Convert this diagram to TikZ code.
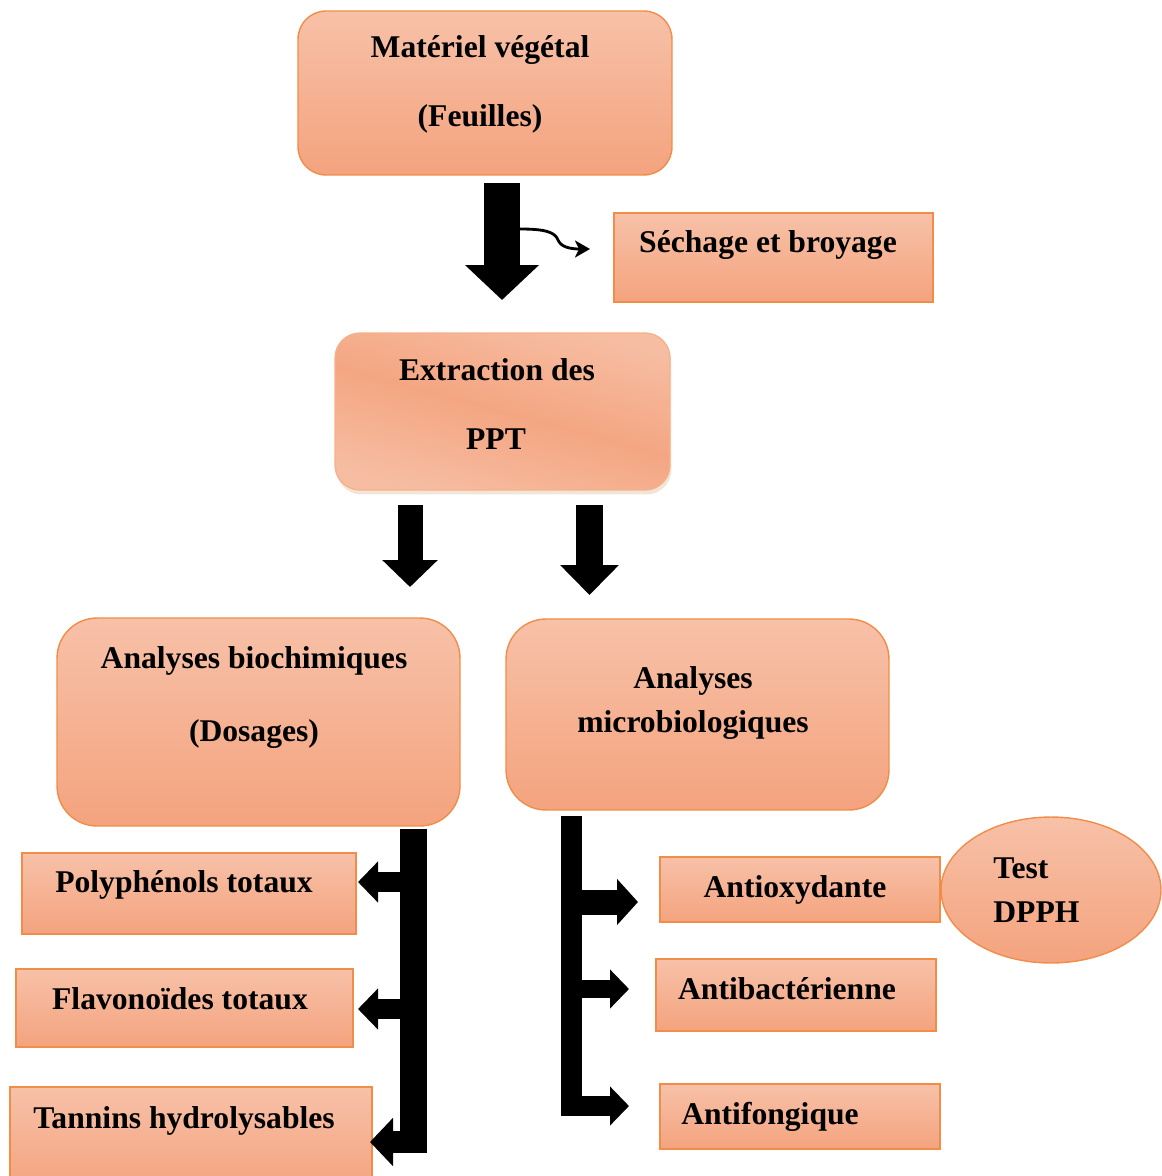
\documentclass[tikz,border=0pt]{standalone}
\usepackage{fontspec}
\setmainfont{Liberation Serif}
\usetikzlibrary{arrows.meta,shapes.geometric,shadows}

\definecolor{peachA}{RGB}{247,193,168}
\definecolor{peachB}{RGB}{244,163,126}
\definecolor{peachC}{RGB}{244,166,130}
\definecolor{edgeOr}{RGB}{241,141,72}

\tikzset{
  lbl/.style={font=\bfseries\fontsize{18}{22}\selectfont, inner sep=0pt, anchor=base},
  box/.style={draw=edgeOr, line width=0.8pt, top color=peachA, bottom color=peachB, inner sep=0pt},
  rbox/.style={box, rounded corners=#1},
  blk/.style={line width=#1, black},
}

\begin{document}
\begin{tikzpicture}[x=0.02cm, y=-0.02cm]
\useasboundingbox (0,0) rectangle (1162,1176);

% --------- Boxes ----------
\node[rbox=0.56cm, minimum width=7.48cm, minimum height=3.28cm] (mat) at (485,93) {};
\node[box, minimum width=6.38cm, minimum height=1.78cm] (sech) at (773.5,257.5) {};
\node[draw=peachA!70!edgeOr, line width=0.8pt, rounded corners=0.5cm, inner sep=0pt,
      top color=peachA!85!peachC, bottom color=peachA!85!peachC, middle color=peachC, shading angle=-15,
      drop shadow={opacity=0.35, fill=brown!60, shadow xshift=0.03cm, shadow yshift=-0.09cm},
      minimum width=6.7cm, minimum height=3.14cm] (ext) at (502.5,411.5) {};
\node[rbox=0.8cm, minimum width=8.06cm, minimum height=4.16cm] (bio) at (258.5,722) {};
\node[rbox=0.8cm, minimum width=7.66cm, minimum height=3.82cm] (micro) at (697.5,714.5) {};

% left column
\node[box, minimum width=6.68cm, minimum height=1.62cm] (poly)  at (189,893.5) {};
\node[box, minimum width=6.74cm, minimum height=1.56cm] (flavo) at (184.5,1008) {};
\node[box, minimum width=7.24cm, minimum height=2.06cm] (tann)  at (191,1138.5) {};

% right column
\node[box, minimum width=5.6cm, minimum height=1.3cm]  (antiox)  at (800,889.5) {};
\node[box, minimum width=5.6cm, minimum height=1.44cm] (antibac) at (796,995) {};
\node[box, minimum width=5.6cm, minimum height=1.3cm]  (antif)   at (800,1116.5) {};
\node[box, ellipse, minimum width=4.4cm, minimum height=2.92cm] (dpph) at (1051,890) {};

% --------- Texts ----------
\node[lbl] (matA) at (480,58)  {Matériel végétal};
\node[lbl] (matB) at (480,127) {(Feuilles)};
\node[lbl] (sechA) at (768,252) {Séchage et broyage};
\node[lbl] (extA) at (497,380) {Extraction des};
\node[lbl] (extB) at (496,449) {PPT};
\node[lbl] (bioA) at (254,668) {Analyses biochimiques};
\node[lbl] (bioB) at (254,741) {(Dosages)};
\node[lbl] (microA) at (693,688) {Analyses};
\node[lbl] (microB) at (693,732) {microbiologiques};
\node[lbl] (polyA)  at (184,892)  {Polyphénols totaux};
\node[lbl] (flavoA) at (180,1009) {Flavonoïdes totaux};
\node[lbl] (tannA)  at (184,1128) {Tannins hydrolysables};
\node[lbl] (antioxA)  at (795,897)  {Antioxydante};
\node[lbl] (antibacA) at (787,999)  {Antibactérienne};
\node[lbl] (antifA)   at (770,1124) {Antifongique};
\node[lbl, anchor=base west] (dpphA) at (993,878) {Test};
\node[lbl, anchor=base west] (dpphB) at (993,922) {DPPH};

% --------- Block arrows ----------
\coordinate (a1s) at (502,183);   \coordinate (a1e) at (502,300);
\coordinate (a2s) at (410,505);   \coordinate (a2e) at (410,587);
\coordinate (a3s) at (589.5,505); \coordinate (a3e) at (589.5,595);

\draw[blk=0.72cm, -{Triangle[length=0.7cm, width=1.44cm]}] (a1s) -- (a1e);
\draw[blk=0.5cm,  -{Triangle[length=0.54cm, width=1.08cm]}] (a2s) -- (a2e);
\draw[blk=0.54cm, -{Triangle[length=0.6cm, width=1.14cm]}] (a3s) -- (a3e);

% small bent arrow towards the drying step
\coordinate (c1s) at (520,229);
\coordinate (c1m) at (558,240);
\coordinate (c1e) at (590,249);
\draw[line width=1.6pt, -{Stealth[length=0.3cm, width=0.34cm, inset=0.08cm]}]
  (c1s) .. controls (545,229) and (555,232) .. (c1m)
        .. controls (561,247) and (570,249) .. (c1e);

% left bracket (dosages)
\coordinate (lTop) at (413.5,829);
\coordinate (lBot) at (413.5,1153);
\draw[blk=0.54cm] (lTop) -- (lBot);
\coordinate (l1) at (413,882);  \coordinate (l1e) at (358,882);
\coordinate (l2) at (413,1009); \coordinate (l2e) at (358,1009);
\coordinate (l3) at (427,1142); \coordinate (l3e) at (370,1142);
\draw[blk=0.4cm,  -{Triangle[length=0.4cm, width=0.8cm]}]  (l1) -- (l1e);
\draw[blk=0.4cm,  -{Triangle[length=0.4cm, width=0.8cm]}]  (l2) -- (l2e);
\draw[blk=0.44cm, -{Triangle[length=0.46cm, width=0.94cm]}] (l3) -- (l3e);

% right bracket (activities)
\coordinate (rTop) at (571.5,816);
\coordinate (rBot) at (571.5,1116);
\draw[blk=0.42cm] (rTop) -- (rBot);
\coordinate (r1) at (572,902);    \coordinate (r1e) at (638,902);
\coordinate (r2) at (572,989);    \coordinate (r2e) at (629,989);
\coordinate (r3) at (572,1106);   \coordinate (r3e) at (629,1106);
\draw[blk=0.5cm,  -{Triangle[length=0.42cm, width=0.9cm]}]  (r1) -- (r1e);
\draw[blk=0.36cm, -{Triangle[length=0.38cm, width=0.76cm]}] (r2) -- (r2e);
\draw[blk=0.4cm,  -{Triangle[length=0.38cm, width=0.76cm]}] (r3) -- (r3e);

\end{tikzpicture}
\end{document}
